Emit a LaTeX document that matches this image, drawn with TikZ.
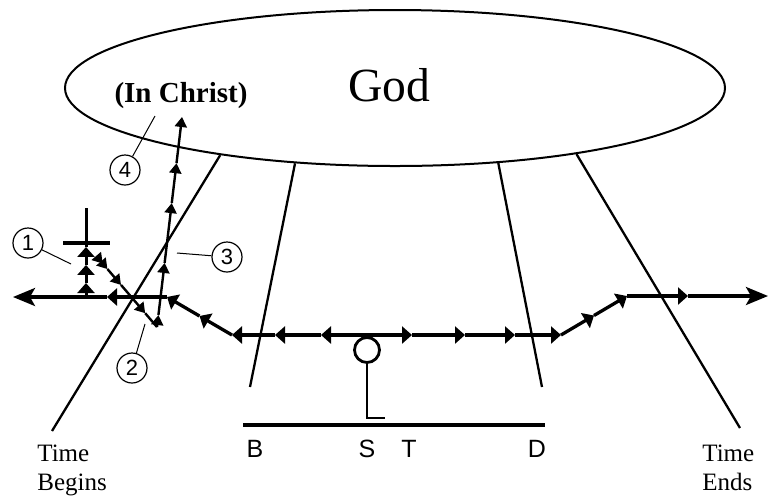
\documentclass[tikz,border=0pt]{standalone}
\usepackage{fontspec}
\setmainfont{Liberation Serif}
\setsansfont{Liberation Sans}
\usetikzlibrary{arrows.meta, shapes.geometric, calc}

\begin{document}
\begin{tikzpicture}[
        x=0.5pt, y=-0.5pt,
        track/.style={line width=1.65pt},
        seg/.style={track, -{Triangle[length=5pt, width=8.5pt]}},
        endtip/.style={track, -{Stealth[length=11pt, width=9pt, inset=2.5pt]}},
        route/.style={line width=1.2pt},
        hop/.style={route, -{Triangle[length=5pt, width=6pt]}},
        rim/.style={line width=1.15pt},
        leader/.style={line width=0.5pt},
        num/.style={
            circle, draw, line width=0.6pt,
            minimum size=15pt, inner sep=0pt,
            font=\sffamily\fontsize{11}{13}\selectfont
        },
        letter/.style={anchor=base, font=\sffamily\fontsize{12.5}{14}\selectfont},
        edgetext/.style={
            anchor=north west, inner sep=0pt, align=left,
            font=\fontsize{12.5}{14.5}\selectfont
        }
    ]
        \useasboundingbox (0,0) rectangle (768,495);

        \node[draw, ellipse, line width=1pt, minimum width=330pt,
            minimum height=78pt, inner sep=0pt] (heaven) at (395,88) {};
        \node[font=\fontsize{23.8}{28}\selectfont] (god) at (389,85) {God};
        \node[font=\bfseries\fontsize{14.5}{17}\selectfont] (inchrist) at (181,96) {(In Christ)};

        % time boundaries
        \coordinate (tbeg) at (52,431);
        \coordinate (lb) at (250,387);
        \coordinate (rb) at (542,387);
        \coordinate (tend) at (740,428);
        \draw[rim] (heaven.-159) -- (tbeg);
        \draw[rim] (heaven.-143.7) -- (lb);
        \draw[rim] (heaven.-36) -- (rb);
        \draw[rim] (heaven.-20.3) -- (tend);

        \node[edgetext] (tbtext) at (37,445) {Time\\Begins};
        \node[edgetext] (tetext) at (702,445) {Time\\Ends};

        % life line
        \coordinate (lend) at (13,297);
        \coordinate (hl) at (107,297);
        \coordinate (jl) at (167,297);
        \coordinate (bl) at (232,335);
        \coordinate (dl) at ($(bl)!0.5!(jl)$);
        \coordinate (bl2) at (275,335);
        \coordinate (bl1) at (321,335);
        \coordinate (bm) at (367,335);
        \coordinate (br1) at (412,335);
        \coordinate (br2) at (465,335);
        \coordinate (br3) at (515,335);
        \coordinate (br) at (561,335);
        \coordinate (jr) at (627,296);
        \coordinate (dr) at ($(br)!0.5!(jr)$);
        \coordinate (hr) at (688,296);
        \coordinate (rend) at (768,296);

        \foreach \from/\to in {bm/bl1, bl1/bl2, bl2/bl, bl/dl, dl/jl, jl/hl,
                bm/br1, br1/br2, br2/br3, br3/br, br/dr, dr/jr, jr/hr}
            \draw[seg] (\from) -- (\to);
        \draw[endtip] (hl) -- (lend);
        \draw[endtip] (hr) -- (rend);

        % cross
        \coordinate (foot) at (86,297);
        \coordinate (head) at (86,208);
        \coordinate (barl) at (63,243);
        \coordinate (barr) at (110,243);
        \foreach \a/\b in {0/0.157, 0.157/0.36, 0.36/0.562}
            \draw[seg, line width=1.5pt] ($(foot)!\a!(head)$) -- ($(foot)!\b!(head)$);
        \draw[track, line width=1.5pt] ($(foot)!0.562!(head)$) -- (head);
        \draw[track] (barl) -- (barr);

        % fall and rise
        \coordinate (fall) at (98,258);
        \coordinate (vee) at (157,327);
        \coordinate (peak) at (182,117);
        \foreach \a/\b in {0/0.08, 0.08/0.16, 0.16/0.39, 0.39/0.8}
            \draw[hop] ($(fall)!\a!(vee)$) -- ($(fall)!\b!(vee)$);
        \draw[route] ($(fall)!0.8!(vee)$) -- (vee);
        \foreach \a/\b in {0/0.057, 0.057/0.305, 0.305/0.59, 0.59/0.78, 0.78/1}
            \draw[hop] ($(vee)!\a!(peak)$) -- ($(vee)!\b!(peak)$);

        % present
        \node[circle, draw, line width=1.4pt, minimum size=12.5pt, inner sep=0pt] (soul) at (367,350) {};
        \coordinate (hook) at (385,418);
        \draw[line width=1.1pt] (soul.south) |- (hook);
        \coordinate (basel) at (243,425);
        \coordinate (baser) at (545,425);
        \draw[line width=1.6pt] (basel) -- (baser);

        \node[letter] (mB) at (255,457) {B};
        \node[letter] (mS) at (367,457) {S};
        \node[letter] (mT) at (409,457) {T};
        \node[letter] (mD) at (537,457) {D};

        % callouts
        \node[num] (c1) at (28,243) {1};
        \node[num] (c2) at (132,368) {2};
        \node[num] (c3) at (227,257) {3};
        \node[num] (c4) at (125,170) {4};
        \coordinate (p1) at (71,264);
        \coordinate (p2) at (145,324);
        \coordinate (p3) at (177,253);
        \coordinate (p4) at (155,116);
        \draw[leader] (c1) -- (p1);
        \draw[leader] (c2) -- (p2);
        \draw[leader] (c3) -- (p3);
        \draw[leader] (c4) -- (p4);
    \end{tikzpicture}
\end{document}
